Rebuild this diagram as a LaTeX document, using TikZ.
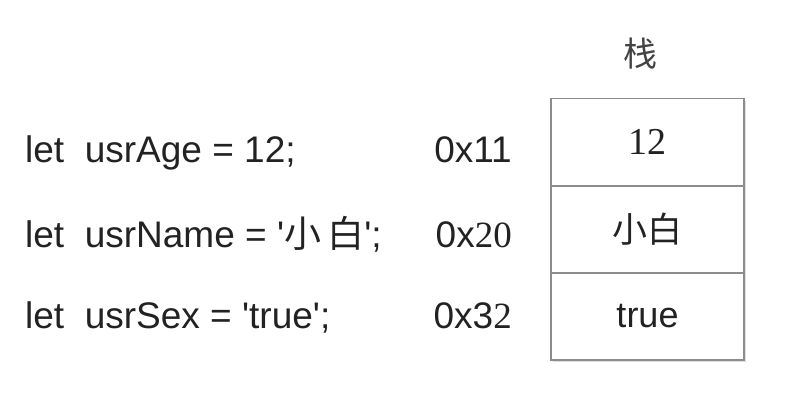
\documentclass[tikz,border=0pt]{standalone}
\usepackage{fontspec}
\setmainfont{Liberation Sans}
\newfontfamily\cjk{Noto Sans CJK SC}
\newfontfamily\serifnum{Liberation Serif}
\usepackage{tikz}
\usetikzlibrary{positioning,shadows}
\definecolor{cellgray}{HTML}{8C8C8C}
\definecolor{textdark}{HTML}{222222}
\newcommand{\sq}{\textquotesingle}
\tikzset{code/.style={anchor=base west,inner sep=0pt,text=textdark,font=\fontsize{37}{44}\selectfont},
  addr/.style={anchor=base east,inner sep=0pt,text=textdark,font=\fontsize{37}{44}\selectfont},
  cell/.style={draw=cellgray,line width=1.6pt,minimum width=193pt,minimum height=87pt,inner sep=0pt,
    text=textdark,font=\fontsize{36}{44}\selectfont,fill=white,
    drop shadow={opacity=0.25,shadow xshift=2pt,shadow yshift=-2pt}}}

\begin{document}
\begin{tikzpicture}[x=1pt,y=-1pt]
        \useasboundingbox (0,0) rectangle (800,418);
        % code lines
        \node[code] (l1) at (25,162) {let\ \ usrAge = 12;};
        \node[code] (l2) at (25,247) {let\ \ usrName = \sq{\cjk 小\,白}\sq;};
        \node[code] (l3) at (25,328) {let\ \ usrSex = \sq true\sq;};
        % addresses
        \node[addr] (a1) at (512,162) {0x11};
        \node[addr] (a2) at (512,247) {0x{\serifnum 20}};
        \node[addr] (a3) at (512,328) {0x3{\serifnum 2}};
        % stack
        \node[cell,font=\serifnum\fontsize{38}{44}\selectfont] (c1) at (647.5,142) {12};
        \node[cell,font=\cjk\fontsize{35}{40}\selectfont] (c2) at (647.5,229.5) {小白};
        \node[cell] (c3) at (647.5,316.5) {true};
        \node[text=textdark!85,font=\cjk\fontsize{34}{40}\selectfont] (title) at (640,54) {栈};
\end{tikzpicture}
\end{document}
